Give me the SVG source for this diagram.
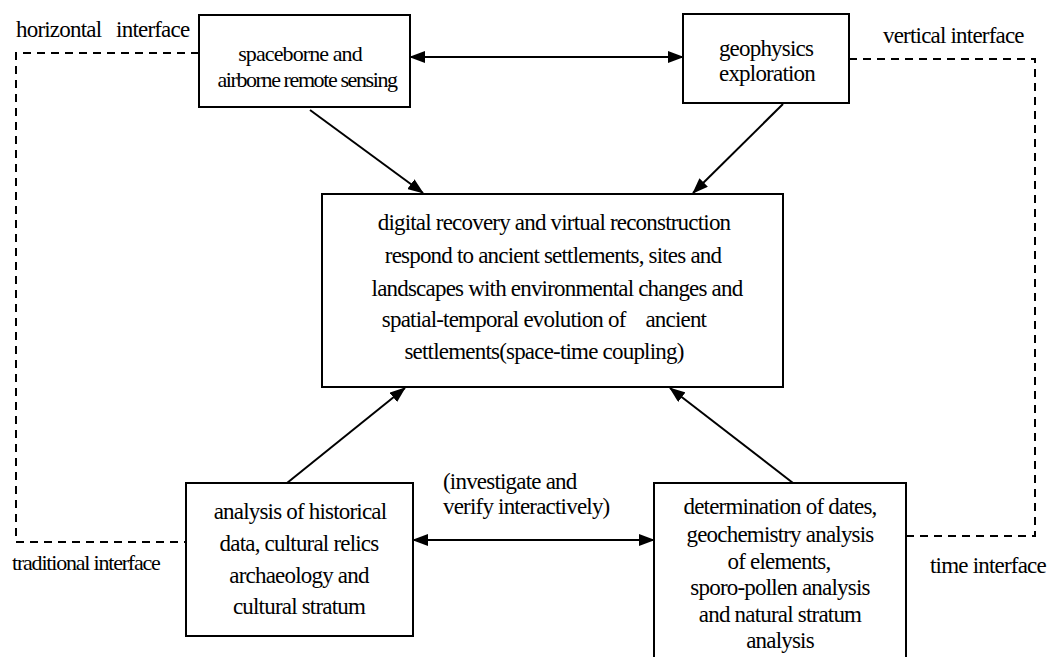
<svg xmlns="http://www.w3.org/2000/svg" width="1049" height="657" viewBox="0 0 1049 657">
<defs>
<marker id="ah" markerWidth="16" markerHeight="12" refX="15" refY="6" orient="auto-start-reverse" markerUnits="userSpaceOnUse">
<path d="M0,0 L16,6 L0,12 Z" fill="#000"/>
</marker>
<style>
.box{fill:#fff;stroke:#000;stroke-width:2}
.c{stroke:#000;stroke-width:2;fill:none}
.d{stroke:#000;stroke-width:2;fill:none;stroke-dasharray:8,6}
</style>
</defs>
<rect width="1049" height="657" fill="#fff"/>
<g id="connectors">
<path class="d" d="M199,53 H16 V542 H186"/>
<path class="d" d="M849,59 H1035 V536 H906"/>
<line class="c" x1="410" y1="57" x2="683" y2="57" marker-start="url(#ah)" marker-end="url(#ah)"/>
<line class="c" x1="310" y1="110" x2="423" y2="193" marker-end="url(#ah)"/>
<line class="c" x1="783" y1="104" x2="693" y2="193" marker-end="url(#ah)"/>
<line class="c" x1="287" y1="483" x2="405" y2="388" marker-end="url(#ah)"/>
<line class="c" x1="793" y1="483" x2="670" y2="388" marker-end="url(#ah)"/>
<line class="c" x1="413" y1="540" x2="654" y2="540" marker-start="url(#ah)" marker-end="url(#ah)"/>
</g>
<g id="node-remote">
<rect class="box" x="199" y="15" width="211" height="92"/>
<text x="300" y="61" font-family="Liberation Serif, serif" font-size="22" text-anchor="middle" letter-spacing="-0.9">spaceborne and</text>
<text x="307" y="87" font-family="Liberation Serif, serif" font-size="22" text-anchor="middle" letter-spacing="-1.4">airborne remote sensing</text>
</g>
<g id="node-geo">
<rect class="box" x="683" y="14" width="166" height="89"/>
<text x="766" y="56" font-family="Liberation Serif, serif" font-size="23" text-anchor="middle" letter-spacing="-0.8">geophysics</text>
<text x="767" y="81" font-family="Liberation Serif, serif" font-size="23" text-anchor="middle" letter-spacing="-0.8">exploration</text>
</g>
<g id="node-center">
<rect class="box" x="322" y="194" width="461" height="193"/>
<text x="554" y="230" font-family="Liberation Serif, serif" font-size="23" text-anchor="middle" letter-spacing="-0.8">digital recovery and virtual reconstruction</text>
<text x="553" y="263" font-family="Liberation Serif, serif" font-size="23" text-anchor="middle" letter-spacing="-0.8">respond to ancient settlements, sites and</text>
<text x="557" y="296" font-family="Liberation Serif, serif" font-size="23" text-anchor="middle" letter-spacing="-0.8">landscapes with environmental changes and</text>
<text x="544" y="327" font-family="Liberation Serif, serif" font-size="23" text-anchor="middle" letter-spacing="-0.8" xml:space="preserve">spatial-temporal evolution of    ancient</text>
<text x="544" y="359" font-family="Liberation Serif, serif" font-size="23" text-anchor="middle" letter-spacing="-0.8">settlements(space-time coupling)</text>
</g>
<g id="node-history">
<rect class="box" x="186" y="483" width="227" height="153"/>
<text x="300" y="519" font-family="Liberation Serif, serif" font-size="23" text-anchor="middle" letter-spacing="-0.8">analysis of historical</text>
<text x="299" y="551" font-family="Liberation Serif, serif" font-size="23" text-anchor="middle" letter-spacing="-0.8">data, cultural relics</text>
<text x="299" y="583" font-family="Liberation Serif, serif" font-size="23" text-anchor="middle" letter-spacing="-0.8">archaeology and</text>
<text x="299" y="614" font-family="Liberation Serif, serif" font-size="23" text-anchor="middle" letter-spacing="-0.8">cultural stratum</text>
</g>
<g id="node-dating">
<rect class="box" x="654" y="483" width="252" height="190"/>
<text x="780" y="514" font-family="Liberation Serif, serif" font-size="23" text-anchor="middle" letter-spacing="-0.8">determination of dates,</text>
<text x="780" y="542" font-family="Liberation Serif, serif" font-size="23" text-anchor="middle" letter-spacing="-0.8">geochemistry analysis</text>
<text x="779" y="569" font-family="Liberation Serif, serif" font-size="23" text-anchor="middle" letter-spacing="-0.8">of elements,</text>
<text x="780" y="595" font-family="Liberation Serif, serif" font-size="23" text-anchor="middle" letter-spacing="-0.8">sporo-pollen analysis</text>
<text x="780" y="622" font-family="Liberation Serif, serif" font-size="23" text-anchor="middle" letter-spacing="-0.8">and natural stratum</text>
<text x="780" y="648" font-family="Liberation Serif, serif" font-size="23" text-anchor="middle" letter-spacing="-0.8">analysis</text>
</g>
<g id="labels">
<text x="16" y="37" font-family="Liberation Serif, serif" font-size="23" letter-spacing="-0.8" xml:space="preserve">horizontal   interface</text>
<text x="883" y="43" font-family="Liberation Serif, serif" font-size="23" letter-spacing="-0.8">vertical interface</text>
<text x="12" y="570" font-family="Liberation Serif, serif" font-size="22" letter-spacing="-1.2">traditional interface</text>
<text x="930" y="573" font-family="Liberation Serif, serif" font-size="23" letter-spacing="-0.8">time interface</text>
<text x="443" y="489" font-family="Liberation Serif, serif" font-size="23" letter-spacing="-0.8">(investigate and</text>
<text x="443" y="514" font-family="Liberation Serif, serif" font-size="23" letter-spacing="-0.8">verify interactively)</text>
</g>
</svg>
